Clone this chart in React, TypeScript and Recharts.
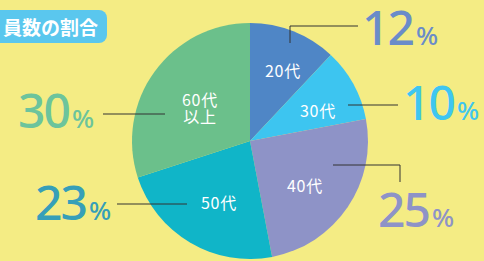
import { PieChart, Pie, Cell } from 'recharts';

const ages = ['20代', '30代', '40代', '50代', '60代\n以上'];
const shares = [12, 10, 25, 23, 30];
const sliceColors = ['#4f86c6', '#3dc5f0', '#8e93c7', '#10b5c8', '#6bc08b'];
const numColors = ['#6a8cc9', '#3fc6f0', '#8e93c7', '#369fb8', '#6cc49c'];

// label layout, offsets from the pie centre
const inner: [number, number][] = [[33, -71], [68, -31], [55, 44], [-31, 61], [-50, -34]];
const leaders: [number, number][][] = [
  [[40, -98], [40, -115], [108, -115]],
  [[98, -36], [148, -36]],
  [[83, 24], [150, 24], [150, 41]],
  [[-63, 63], [-133, 63]],
  [[-85, -27], [-147, -27]],
];
const outer: [number, number][] = [[112, -96], [153, -21], [128, 86], [-215, 79], [-232, -13]];

const data = ages.map((name, i) => ({ name, value: shares[i] }));

const W = 484;
const H = 261;
const CX = 250;
const CY = 141;

function SliceLabel(props: { cx?: number; cy?: number; index?: number }) {
  const { index = 0 } = props;
  const cx = Number(props.cx ?? CX);
  const cy = Number(props.cy ?? CY);
  const lines = ages[index].split('\n');
  const [ix, iy] = inner[index];
  const pts = leaders[index].map(([x, y]) => `${cx + x},${cy + y}`).join(' ');
  const [ox, oy] = outer[index];
  return (
    <g>
      <text
        x={cx + ix}
        y={cy + iy - (lines.length - 1) * 8}
        textAnchor="middle"
        dominantBaseline="central"
        fill="#fff"
        fontSize={16}
        letterSpacing={0.8}
        fontFamily="'Noto Sans CJK JP', 'Noto Sans'"
      >
        {lines.map((l, k) => (
          <tspan key={k} x={cx + ix} dy={k === 0 ? 0 : 17}>{l}</tspan>
        ))}
      </text>
      <polyline points={pts} fill="none" stroke="#333" strokeWidth={1} />
      <text x={cx + ox} y={cy + oy} fill={numColors[index]} fontFamily="'Noto Sans'" fontWeight={500}>
        <tspan fontSize={48} letterSpacing={-2}>{shares[index]}</tspan>
        <tspan fontSize={26} dx={3}>%</tspan>
      </text>
    </g>
  );
}

export default function App() {
  return (
    <div style={{ position: 'relative', width: W, height: H, background: '#f4ec84', overflow: 'hidden' }}>
      <style>{'body{margin:0}'}</style>
      <PieChart width={W} height={H} margin={{ top: 0, right: 0, bottom: 0, left: 0 }}>
        <Pie
          data={data}
          dataKey="value"
          cx={CX}
          cy={CY}
          outerRadius={118}
          startAngle={90}
          endAngle={-270}
          stroke="none"
          label={(p: any) => <SliceLabel {...p} />}
          labelLine={false}
          isAnimationActive={false}
        >
          {data.map((d, i) => (
            <Cell key={d.name} fill={sliceColors[i]} />
          ))}
        </Pie>
      </PieChart>
      <div
        style={{
          position: 'absolute',
          left: 0,
          top: 10,
          width: 107,
          height: 33,
          borderRadius: '0 8px 8px 0',
          background: '#5ac7ee',
          color: '#fff',
          fontFamily: "'Noto Sans CJK JP'",
          fontWeight: 700,
          fontSize: 19,
          lineHeight: '33px',
          paddingLeft: 3,
          boxSizing: 'border-box',
          whiteSpace: 'nowrap',
        }}
      >
        員数の割合
      </div>
    </div>
  );
}
